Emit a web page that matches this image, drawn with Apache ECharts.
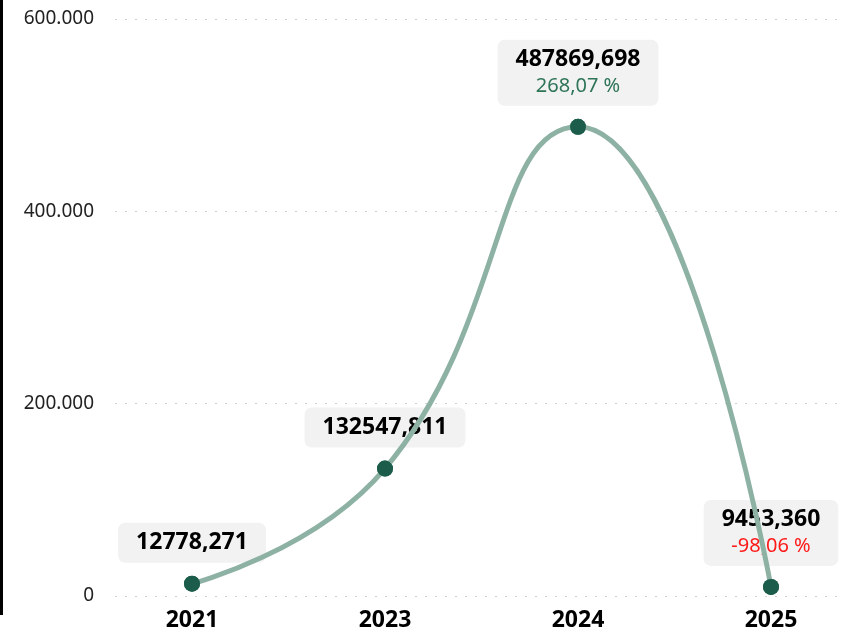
<!DOCTYPE html>
<html>
<head>
<meta charset="utf-8">
<script src="https://cdn.jsdelivr.net/npm/echarts@6/dist/echarts.min.js"></script>
<style>html,body{margin:0;padding:0;background:#fff}#c{width:851px;height:632px}</style>
</head>
<body>
<div id="c"></div>
<script>
const years = ['2021', '2023', '2024', '2025'];
const values = [12778.271, 132547.811, 487869.698, 9453.360];
const pctLabels = [null, null, '268,07 %', '-98,06 %'];
const pctPositive = [null, null, true, false];
const yTicks = [0, 200000, 400000, 600000];

function fmtVal(v) { return v.toFixed(3).replace('.', ','); }
function fmtTick(v) { return String(Math.round(v)).replace(/\B(?=(\d{3})+(?!\d))/g, '.'); }

const FONT = '"Noto Sans", "Open Sans", sans-serif';
const chart = echarts.init(document.getElementById('c'));
const common = { type: 'line', xAxisIndex: 1, yAxisIndex: 1, data: values, smooth: 0.5, silent: true };
chart.setOption({
  animation: false,
  textStyle: { fontFamily: FONT },
  graphic: [{ type: 'rect', left: 0, top: 0, shape: { width: 3, height: 615 }, style: { fill: '#000' } }],
  grid: [
    { left: 115, right: 6, top: 19, bottom: 36 },
    { left: 192, right: 80, top: 19, bottom: 36 }
  ],
  xAxis: [
    { gridIndex: 0, type: 'category', data: years, show: false },
    { gridIndex: 1, type: 'category', data: years, boundaryGap: false,
      axisLine: { show: false }, axisTick: { show: false },
      axisLabel: { fontSize: 23, fontWeight: 'bold', color: '#000', margin: 13, fontFamily: FONT } }
  ],
  yAxis: [
    { gridIndex: 0, type: 'value', min: yTicks[0], max: yTicks[yTicks.length - 1], interval: 200000,
      axisLine: { show: false }, axisTick: { show: false },
      axisLabel: { fontSize: 19, color: '#222', margin: 21, formatter: fmtTick, fontFamily: FONT },
      splitLine: { lineStyle: { color: '#d0d0d0', type: [2, 8], width: 1 } } },
    { gridIndex: 1, type: 'value', min: yTicks[0], max: yTicks[yTicks.length - 1], show: false }
  ],
  series: [
    Object.assign({}, common, {
      z: 1,
      lineStyle: { opacity: 0, width: 0 },
      symbol: 'circle', symbolSize: 16,
      itemStyle: { color: '#1c5c4a' },
      label: {
        show: true, position: 'top', distance: 13,
        backgroundColor: '#f2f2f2', borderRadius: 7, padding: [7, 18, 7, 18],
        formatter: function (p) {
          const v = fmtVal(values[p.dataIndex]);
          const pc = pctLabels[p.dataIndex];
          if (!pc) return '{v|' + v + '}';
          return '{v|' + v + '}\n{' + (pctPositive[p.dataIndex] ? 'pos' : 'neg') + '|' + pc + '}';
        },
        rich: {
          v: { fontSize: 23, fontWeight: 'bold', color: '#000', lineHeight: 26, fontFamily: FONT, align: 'center' },
          pos: { fontSize: 20, color: '#2e7558', lineHeight: 26, fontFamily: FONT, align: 'center' },
          neg: { fontSize: 20, color: '#ff1a1a', lineHeight: 26, fontFamily: FONT, align: 'center' }
        }
      }
    }),
    Object.assign({}, common, {
      z: 2,
      lineStyle: { color: '#8db2a4', width: 5 },
      symbol: 'none'
    }),
    Object.assign({}, common, {
      z: 3,
      lineStyle: { opacity: 0, width: 0 },
      symbol: 'circle', symbolSize: 16,
      itemStyle: { color: '#1c5c4a' }
    })
  ]
});
</script>
</body>
</html>
